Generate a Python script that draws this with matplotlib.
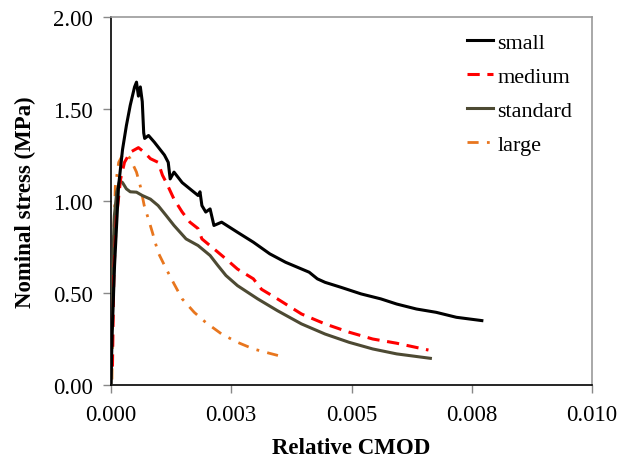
import matplotlib
matplotlib.use("Agg")
import matplotlib.pyplot as plt

# ---- data ----
small_x = [0.0, 0.000025, 0.000074, 0.000157, 0.00024, 0.00032, 0.0004, 0.00049, 0.00053,
           0.00057, 0.00061, 0.00065, 0.00068, 0.0007, 0.00078, 0.0009, 0.00102, 0.00111,
           0.00119, 0.00123, 0.00131, 0.00148, 0.00164, 0.00181, 0.00185, 0.00189, 0.00197,
           0.00206, 0.00214, 0.0023, 0.00263, 0.00296, 0.0033, 0.00363, 0.00412, 0.00429,
           0.00445, 0.00478, 0.0052, 0.00561, 0.00594, 0.00635, 0.00676, 0.00718, 0.00771]
small_y = [0.01, 0.29, 0.65, 1.08, 1.28, 1.41, 1.52, 1.62, 1.646,
           1.57, 1.62, 1.54, 1.37, 1.34, 1.356, 1.32, 1.28, 1.25,
           1.21, 1.12, 1.157, 1.10, 1.066, 1.03, 1.05, 0.975, 0.94,
           0.957, 0.867, 0.885, 0.83, 0.776, 0.713, 0.667, 0.613, 0.577,
           0.558, 0.531, 0.495, 0.468, 0.44, 0.413, 0.395, 0.368, 0.35]

medium_x = [0.00003, 0.00006, 0.000116, 0.0002, 0.00028, 0.0004, 0.00057, 0.00069, 0.00082,
            0.00098, 0.00107, 0.00115, 0.00131, 0.00148, 0.00164, 0.00181, 0.00189, 0.00214,
            0.00239, 0.00263, 0.00296, 0.00313, 0.00346, 0.00396, 0.00445, 0.00495, 0.00544,
            0.00594, 0.0066]
medium_y = [0.10, 0.62, 0.92, 1.12, 1.21, 1.265, 1.29, 1.265, 1.23,
            1.21, 1.14, 1.10, 1.01, 0.94, 0.885, 0.85, 0.794, 0.74,
            0.685, 0.63, 0.577, 0.52, 0.468, 0.386, 0.332, 0.287, 0.25,
            0.227, 0.19]

standard_x = [0.0, 0.000033, 0.00007, 0.00012, 0.00018, 0.00024, 0.00032, 0.0004, 0.00053,
              0.00065, 0.00082, 0.00098, 0.00115, 0.00131, 0.00156, 0.00181, 0.00206, 0.00222,
              0.00239, 0.00263, 0.00305, 0.00346, 0.00396, 0.00445, 0.00495, 0.00544, 0.00594,
              0.00664]
standard_y = [0.01, 0.65, 0.92, 1.05, 1.11, 1.10, 1.066, 1.05, 1.048,
              1.03, 1.01, 0.975, 0.92, 0.867, 0.794, 0.758, 0.704, 0.65,
              0.595, 0.54, 0.468, 0.404, 0.332, 0.277, 0.232, 0.196, 0.169,
              0.145]

large_x = [0.00002, 0.000033, 0.00006, 0.00009, 0.00016, 0.00024, 0.00032, 0.0004, 0.00053,
           0.00061, 0.00069, 0.00078, 0.00086, 0.00098, 0.00115, 0.00131, 0.00148, 0.00173,
           0.00197, 0.0023, 0.00263, 0.00296, 0.0033, 0.00358]
large_y = [0.03, 0.38, 0.83, 1.08, 1.21, 1.25, 1.257, 1.23, 1.157,
           1.08, 0.976, 0.90, 0.83, 0.72, 0.63, 0.55, 0.468, 0.395,
           0.34, 0.277, 0.232, 0.196, 0.172, 0.153]

x_ticks = [0.0, 0.0025, 0.005, 0.0075, 0.01]
x_tick_labels = ["0.000", "0.003", "0.005", "0.008", "0.010"]
y_ticks = [0.0, 0.5, 1.0, 1.5, 2.0]
y_tick_labels = ["0.00", "0.50", "1.00", "1.50", "2.00"]

plt.rcParams['font.family'] = ['Liberation Serif', 'DejaVu Serif']

fig = plt.figure(figsize=(6.22, 4.64), dpi=100)
ax = fig.add_axes([111 / 622, 1 - 386 / 464, (592 - 111) / 622, (386 - 18) / 464])

ax.plot(large_x, large_y, color='#e8761e', lw=2.0, dashes=(4, 3, 1, 3), label='large', zorder=2)
ax.plot(standard_x, standard_y, color='#4d4a33', lw=2.2, label='standard', zorder=3)
ax.plot(medium_x, medium_y, color='#ff0000', lw=2.2, dashes=(4, 2.5), label='medium', zorder=4)
ax.plot(small_x, small_y, color='black', lw=2.2, label='small', zorder=5)

ax.set_xlim(0, 0.01)
ax.set_ylim(0, 2.0)
ax.set_xticks(x_ticks)
ax.set_xticklabels(x_tick_labels)
ax.set_yticks(y_ticks)
ax.set_yticklabels(y_tick_labels)
ax.tick_params(axis='both', direction='out', length=6, width=1, color='#888888',
               labelsize=16.5, labelcolor='black')
ax.tick_params(axis='x', pad=8)
ax.tick_params(axis='y', pad=7)

for s in ['left', 'bottom']:
    ax.spines[s].set_color('black')
    ax.spines[s].set_linewidth(1.2)
for s in ['top', 'right']:
    ax.spines[s].set_color('#999999')
    ax.spines[s].set_linewidth(1.2)

ax.set_xlabel('Relative CMOD', fontsize=16.5, fontweight='bold', labelpad=8)
ax.set_ylabel('Nominal stress (MPa)', fontsize=16.5, fontweight='bold', labelpad=12)

handles, labels = ax.get_legend_handles_labels()
order = [3, 2, 1, 0]
ax.legend([handles[i] for i in order], [labels[i] for i in order],
          loc='upper right', bbox_to_anchor=(1.0, 1.012), frameon=False, fontsize=16,
          handlelength=1.15, handletextpad=0.2, labelspacing=0.6)

fig.savefig('out.png', dpi=100)
